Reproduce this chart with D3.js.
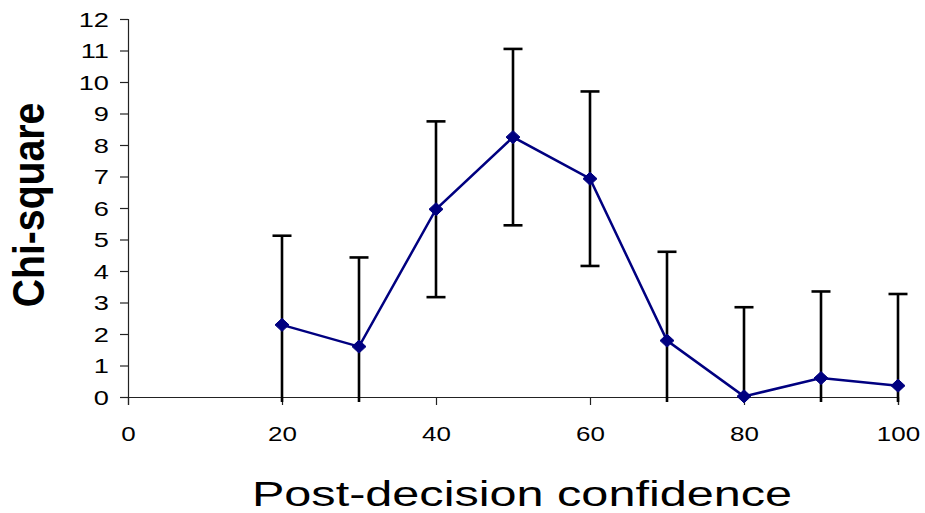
<!DOCTYPE html>
<html>
<head>
<meta charset="utf-8">
<script src="https://cdn.jsdelivr.net/npm/d3@7"></script>
<style>
  body { margin: 0; background: #fff; }
  svg { display: block; }
</style>
</head>
<body>
<div id="chart"></div>
<script>
// confidence bins and chi-square values
var confidence = [20, 30, 40, 50, 60, 70, 80, 90, 100];
var chiSquare = [2.29, 1.6, 5.96, 8.25, 6.93, 1.79, 0.02, 0.6, 0.36];
var errMargin = [2.83, 2.83, 2.79, 2.8, 2.77, 2.82, 2.83, 2.75, 2.91];
var xTicks = [0, 20, 40, 60, 80, 100];
var yTicks = [0, 1, 2, 3, 4, 5, 6, 7, 8, 9, 10, 11, 12];

var width = 925, height = 513;
var navy = "#000080";

var svg = d3.select("#chart").append("svg")
  .attr("width", width)
  .attr("height", height);

var x = d3.scaleLinear().domain([0, 100]).range([128, 898]);
var y = d3.scaleLinear().domain([0, 12]).range([397, 19]);

// axes
var yAxis = svg.append("g")
  .attr("transform", "translate(" + x(0) + ",0)")
  .call(d3.axisLeft(y).tickValues(yTicks).tickSize(8).tickFormat(d3.format("d")));
var xAxis = svg.append("g")
  .attr("transform", "translate(0," + y(0) + ")")
  .call(d3.axisBottom(x).tickValues(xTicks).tickSize(8).tickFormat(d3.format("d")));

[yAxis, xAxis].forEach(function(g) {
  g.select(".domain").attr("stroke", "#222").attr("stroke-width", 1.2);
  g.selectAll(".tick line").attr("stroke", "#222").attr("stroke-width", 1.2);
  g.selectAll(".tick text")
    .attr("fill", "#000")
    .attr("font-family", "'Liberation Sans', Arial, sans-serif")
    .attr("font-size", "20px");
});
// the labels in the original are a bit wider than Arial, stretch them
yAxis.selectAll(".tick text")
  .attr("x", null)
  .attr("dy", null)
  .attr("dominant-baseline", "central")
  .attr("text-anchor", "end")
  .attr("transform", "translate(-19,0) scale(1.36,1)");
xAxis.selectAll(".tick text")
  .attr("y", null)
  .attr("dy", null)
  .attr("transform", "translate(0,44) scale(1.3,1)");

// error bars
var errG = svg.append("g");
confidence.forEach(function(c, i) {
  var cx = x(c);
  var top = y(chiSquare[i] + errMargin[i]);
  var bottom = Math.min(y(chiSquare[i] - errMargin[i]), y(0) + 5);
  errG.append("line")
    .attr("x1", cx).attr("x2", cx)
    .attr("y1", top).attr("y2", bottom)
    .attr("stroke", "#000").attr("stroke-width", 2.6);
  errG.append("line")
    .attr("x1", cx - 9.5).attr("x2", cx + 9.5)
    .attr("y1", top).attr("y2", top)
    .attr("stroke", "#000").attr("stroke-width", 2.6);
  if (chiSquare[i] - errMargin[i] > 0) {
    errG.append("line")
      .attr("x1", cx - 9.5).attr("x2", cx + 9.5)
      .attr("y1", bottom).attr("y2", bottom)
      .attr("stroke", "#000").attr("stroke-width", 2.6);
  }
});

// the line
var line = d3.line()
  .x(function(d, i) { return x(confidence[i]); })
  .y(function(d) { return y(d); });

svg.append("path")
  .datum(chiSquare)
  .attr("d", line)
  .attr("fill", "none")
  .attr("stroke", navy)
  .attr("stroke-width", 2.5);

// diamond markers
svg.selectAll("path.marker")
  .data(chiSquare)
  .enter().append("path")
  .attr("class", "marker")
  .attr("d", "M0,-6.5L7,0L0,6.5L-7,0Z")
  .attr("transform", function(d, i) {
    return "translate(" + x(confidence[i]) + "," + y(d) + ")";
  })
  .attr("fill", navy)
  .attr("stroke", navy)
  .attr("stroke-width", 1);

// axis titles
svg.append("text")
  .attr("transform", "translate(44,205) rotate(-90) scale(0.89,1)")
  .attr("text-anchor", "middle")
  .attr("font-family", "'Liberation Sans', Arial, sans-serif")
  .attr("font-weight", "bold")
  .attr("font-size", "44px")
  .attr("fill", "#000")
  .text("Chi-square");

svg.append("text")
  .attr("transform", "translate(522,506) scale(1.35,1)")
  .attr("text-anchor", "middle")
  .attr("font-family", "'Liberation Sans', Arial, sans-serif")
  .attr("font-size", "36px")
  .attr("fill", "#000")
  .text("Post-decision confidence");
</script>
</body>
</html>
